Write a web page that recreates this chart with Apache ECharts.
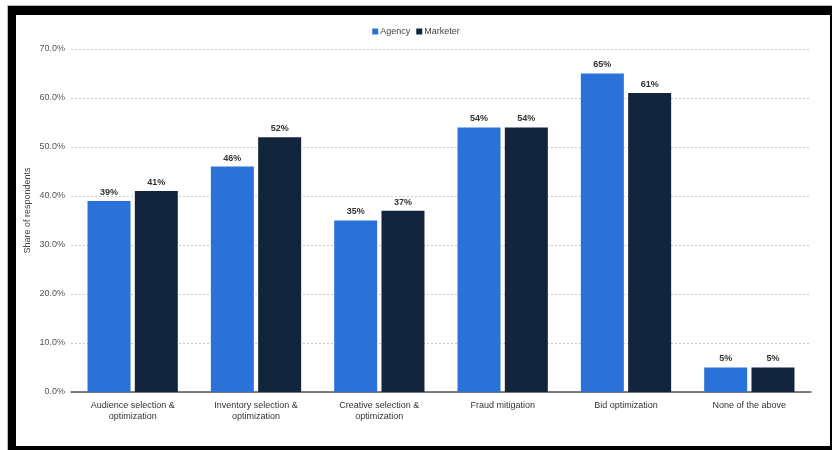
<!DOCTYPE html>
<html>
<head>
<meta charset="utf-8">
<script src="https://cdn.jsdelivr.net/npm/echarts@6/dist/echarts.min.js"></script>
<style>
html,body{margin:0;padding:0;background:#fff;}
#c{width:832px;height:450px;}
</style>
</head>
<body>
<div id="c"></div>
<script>
const categories = ["Audience selection &\noptimization", "Inventory selection &\noptimization", "Creative selection &\noptimization", "Fraud mitigation", "Bid optimization", "None of the above"];
const agency = [39, 46, 35, 54, 65, 5];
const marketer = [41, 52, 37, 54, 61, 5];
const seriesNames = ["Agency", "Marketer"];
const yTicks = [0, 10, 20, 30, 40, 50, 60, 70];

const chart = echarts.init(document.getElementById('c'));
const font = 'Liberation Sans, Arial, sans-serif';
const labelCfg = {show: true, position: 'top', distance: 4, formatter: p => p.value + '%', fontSize: 9, fontFamily: font, color: '#333', fontWeight: 'bold'};
chart.setOption({
  animation: false,
  textStyle: {fontFamily: font},
  legend: {
    top: 22, left: 'center', itemWidth: 6, itemHeight: 6, itemGap: 6,
    icon: 'rect',
    textStyle: {fontSize: 9, color: '#444', fontFamily: font, padding: [0,0,0,-3]},
    data: seriesNames
  },
  grid: {left: 71, right: 21, top: 49, bottom: 58, containLabel: false},
  xAxis: {
    type: 'category', data: categories,
    axisLine: {lineStyle: {color: '#555', width: 1.5}},
    axisTick: {show: false},
    axisLabel: {fontSize: 9, color: '#333', lineHeight: 11, margin: 8, interval: 0, fontFamily: font}
  },
  yAxis: {
    type: 'value', min: yTicks[0], max: yTicks[yTicks.length-1], interval: 10,
    name: 'Share of respondents', nameLocation: 'middle', nameGap: 39, nameMoveOverlap: false,
    nameTextStyle: {fontSize: 9, color: '#444', fontFamily: font, padding: [0, 0, 0, 20]},
    axisLabel: {formatter: v => v.toFixed(1) + '%', fontSize: 9, color: '#555', margin: 6, fontFamily: font},
    axisLine: {show: false}, axisTick: {show: false},
    splitLine: {lineStyle: {color: '#c8c8c8', type: [2, 2], width: 1}}
  },
  series: [
    {name: seriesNames[0], type: 'bar', data: agency, barWidth: 43, barGap: '10%', itemStyle: {color: '#2a72d8'}, label: labelCfg},
    {name: seriesNames[1], type: 'bar', data: marketer, barWidth: 43, itemStyle: {color: '#12253d'}, label: labelCfg}
  ],
  graphic: [
    {type: 'rect', shape: {x: 7, y: 5, width: 825, height: 1}, style: {fill: '#bbb'}},
    {type: 'rect', shape: {x: 7, y: 5, width: 1, height: 445}, style: {fill: '#bbb'}},
    {type: 'rect', shape: {x: 8, y: 6, width: 824, height: 9}, style: {fill: '#000'}},
    {type: 'rect', shape: {x: 8, y: 6, width: 8, height: 444}, style: {fill: '#000'}},
    {type: 'rect', shape: {x: 8, y: 446, width: 824, height: 4}, style: {fill: '#000'}},
    {type: 'rect', shape: {x: 830, y: 6, width: 2, height: 444}, style: {fill: '#000'}}
  ]
});
</script>
</body>
</html>
